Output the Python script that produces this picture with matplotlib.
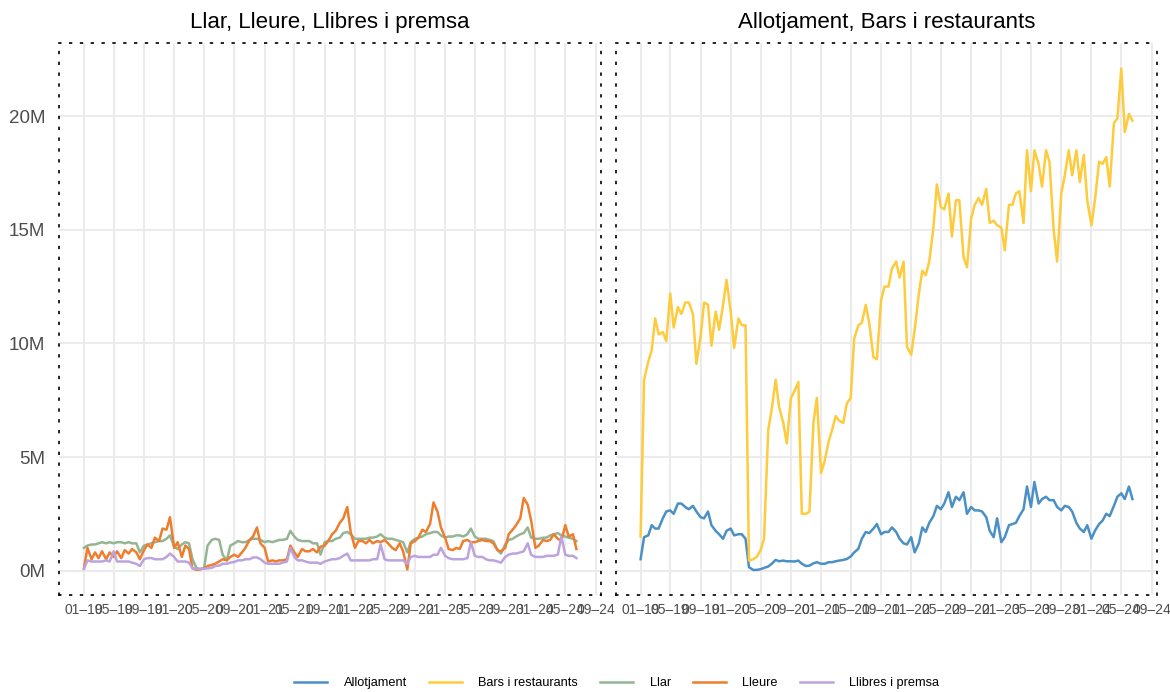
import pandas as pd
import matplotlib
matplotlib.use("Agg")
import matplotlib.pyplot as plt
import matplotlib.dates as mdates
from matplotlib.ticker import FuncFormatter

plt.rcParams['font.family'] = ['Liberation Sans', 'DejaVu Sans']

# --- data (millions, semi-monthly from Jan 2019) ---------------------------
dates = pd.date_range("2019-01-01", periods=132, freq="SMS")

allotjament = [
    0.5, 1.47, 1.55, 2.0, 1.85, 1.85, 2.3, 2.6, 2.65, 2.5, 2.95, 2.95,
    2.8, 2.7, 2.85, 2.6, 2.35, 2.3, 2.6, 2.0, 1.75, 1.6, 1.4, 1.75,
    1.85, 1.55, 1.6, 1.6, 1.4, 0.15, 0.03, 0.03, 0.06, 0.12, 0.18, 0.3,
    0.47, 0.41, 0.44, 0.41, 0.41, 0.4, 0.44, 0.3, 0.2, 0.22, 0.32, 0.37,
    0.3, 0.3, 0.37, 0.37, 0.41, 0.44, 0.47, 0.51, 0.62, 0.8, 0.96, 1.4,
    1.7, 1.65, 1.85, 2.05, 1.6, 1.7, 1.7, 1.9, 1.7, 1.4, 1.2, 1.15,
    1.47, 0.8, 1.2, 1.9, 1.7, 2.1, 2.4, 2.85, 2.7, 2.95, 3.45, 2.8,
    3.25, 3.1, 3.45, 2.5, 2.8, 2.65, 2.65, 2.6, 2.35, 1.75, 1.47, 2.3,
    1.25, 1.47, 2.0, 2.05, 2.1, 2.4, 2.7, 3.7, 2.8, 3.9, 2.95, 3.15,
    3.25, 3.1, 3.1, 2.8, 2.65, 2.85, 2.8, 2.6, 2.1, 1.85, 1.7, 2.0,
    1.4, 1.75, 2.05, 2.2, 2.5, 2.4, 2.85, 3.25, 3.4, 3.15, 3.7, 3.15,
]
bars = [
    1.5, 8.4, 9.2, 9.7, 11.1, 10.4, 10.5, 10.1, 12.2, 10.7, 11.6, 11.3,
    11.8, 11.8, 11.3, 9.1, 10.3, 11.8, 11.7, 9.9, 11.4, 10.6, 11.7, 12.8,
    11.4, 9.8, 11.1, 10.8, 10.8, 0.44, 0.5, 0.6, 0.9, 1.4, 6.2, 7.1,
    8.4, 7.2, 6.5, 5.6, 7.6, 7.9, 8.3, 2.5, 2.5, 2.6, 6.5, 7.6,
    4.3, 4.8, 5.7, 6.2, 6.8, 6.6, 6.5, 7.35, 7.6, 10.2, 10.8, 10.9,
    11.7, 10.9, 9.4, 9.3, 11.9, 12.5, 12.5, 13.3, 13.6, 12.9, 13.6, 9.85,
    9.5, 10.6, 12.2, 13.2, 13.0, 13.6, 15.1, 17.0, 16.0, 15.9, 16.6, 14.7,
    16.3, 16.3, 13.8, 13.35, 15.5, 16.1, 16.4, 16.1, 16.8, 15.3, 15.4, 15.2,
    15.1, 14.1, 16.1, 16.1, 16.6, 16.7, 15.3, 18.5, 16.7, 18.5, 17.9, 16.9,
    18.5, 18.0, 15.0, 13.6, 16.6, 17.4, 18.5, 17.4, 18.5, 17.1, 18.3, 16.3,
    15.2, 16.3, 18.0, 17.9, 18.2, 16.9, 19.7, 19.9, 22.1, 19.3, 20.1, 19.8,
]
llar = [
    1.0, 1.1, 1.15, 1.15, 1.2, 1.25, 1.2, 1.25, 1.2, 1.25, 1.25, 1.2,
    1.25, 1.2, 1.2, 0.8, 1.1, 1.15, 1.2, 1.25, 1.3, 1.3, 1.4, 1.55,
    1.05, 0.95, 1.15, 1.25, 1.2, 0.5, 0.1, 0.08, 0.1, 1.1, 1.35, 1.4,
    1.35, 0.7, 0.45, 1.1, 1.2, 1.3, 1.25, 1.25, 1.35, 1.4, 1.4, 1.35,
    1.25, 1.3, 1.25, 1.3, 1.35, 1.35, 1.4, 1.75, 1.5, 1.35, 1.3, 1.3,
    1.3, 1.2, 1.2, 0.7, 1.25, 1.3, 1.3, 1.4, 1.45, 1.65, 1.7, 1.6,
    1.4, 1.4, 1.4, 1.4, 1.45, 1.45, 1.5, 1.6, 1.45, 1.4, 1.4, 1.35,
    1.3, 1.25, 0.8, 1.25, 1.4, 1.45, 1.5, 1.6, 1.65, 1.7, 1.7, 1.55,
    1.45, 1.5, 1.5, 1.55, 1.55, 1.5, 1.6, 1.85, 1.5, 1.4, 1.4, 1.4,
    1.35, 1.3, 0.9, 0.75, 1.15, 1.35, 1.4, 1.5, 1.6, 1.65, 1.9, 1.45,
    1.4, 1.4, 1.45, 1.45, 1.55, 1.6, 1.65, 1.55, 1.5, 1.45, 1.4, 1.3,
]
lleure = [
    0.1, 1.0, 0.5, 0.8, 0.55, 0.85, 0.5, 0.8, 0.6, 0.85, 0.55, 0.9,
    0.75, 0.95, 0.8, 0.5, 0.9, 1.15, 1.0, 1.45, 1.3, 1.85, 1.8, 2.35,
    1.0, 1.25, 0.6, 1.1, 0.95, 0.1, 0.03, 0.05, 0.1, 0.2, 0.25, 0.3,
    0.4, 0.5, 0.45, 0.6, 0.7, 0.6, 0.8, 1.0, 1.35, 1.5, 1.9, 1.2,
    1.0, 0.4, 0.45, 0.4, 0.45, 0.45, 0.5, 1.1, 0.8, 0.6, 0.95, 0.85,
    0.85, 0.95, 0.8, 1.05, 1.1, 1.3, 1.6, 1.75, 2.1, 2.3, 2.8, 1.7,
    1.0, 1.3, 1.3, 1.2, 1.35, 1.2, 1.3, 1.25, 1.35, 1.2, 1.0, 0.9,
    1.2, 0.85, 0.05, 1.2, 1.3, 1.45, 1.8, 1.7, 2.05, 3.0, 2.6, 1.9,
    1.45, 0.95, 0.9, 1.0, 0.95, 1.3, 1.35, 1.25, 1.25, 1.3, 1.35, 1.3,
    1.3, 1.2, 0.9, 0.85, 1.0, 1.6, 1.8, 2.0, 2.3, 3.2, 2.9, 2.2,
    1.0, 1.1, 1.35, 1.3, 1.35, 1.6, 1.4, 1.3, 2.0, 1.5, 1.6, 0.95,
]
llibres = [
    0.07, 0.45, 0.4, 0.4, 0.4, 0.4, 0.45, 0.4, 0.85, 0.4, 0.4, 0.4,
    0.4, 0.35, 0.3, 0.2, 0.5, 0.55, 0.55, 0.5, 0.5, 0.5, 0.6, 0.75,
    0.6, 0.4, 0.4, 0.4, 0.35, 0.1, 0.07, 0.07, 0.08, 0.1, 0.12, 0.2,
    0.22, 0.3, 0.3, 0.35, 0.38, 0.45, 0.45, 0.5, 0.5, 0.58, 0.58, 0.5,
    0.35, 0.3, 0.3, 0.3, 0.3, 0.35, 0.4, 1.0, 0.6, 0.45, 0.45, 0.4,
    0.35, 0.35, 0.35, 0.3, 0.4, 0.45, 0.5, 0.5, 0.55, 0.65, 0.75, 0.45,
    0.45, 0.45, 0.45, 0.45, 0.45, 0.5, 0.5, 1.15, 0.5, 0.45, 0.45, 0.45,
    0.45, 0.45, 0.3, 0.6, 0.65, 0.6, 0.6, 0.6, 0.6, 0.7, 0.7, 1.0,
    0.65, 0.55, 0.5, 0.5, 0.5, 0.5, 0.55, 1.25, 0.65, 0.6, 0.6, 0.5,
    0.45, 0.45, 0.4, 0.35, 0.6, 0.7, 0.75, 0.75, 0.8, 0.85, 1.2, 0.7,
    0.6, 0.6, 0.6, 0.65, 0.65, 0.65, 0.7, 1.5, 0.7, 0.65, 0.65, 0.55,
]

colors = {
    "Allotjament": "#4a90c4",
    "Bars i restaurants": "#fecb3c",
    "Llar": "#94b594",
    "Lleure": "#ee7d2e",
    "Llibres i premsa": "#bca3de",
}

# --- figure ------------------------------------------------------------------
fig = plt.figure(figsize=(11.7, 6.92), dpi=100)
ax1 = fig.add_axes([0.0507, 0.1402, 0.463, 0.797])
ax2 = fig.add_axes([0.5265, 0.1402, 0.4624, 0.797], sharey=ax1)

lw = 1.8
ax1.plot(dates, llar, color=colors["Llar"], lw=lw, label="Llar")
ax1.plot(dates, lleure, color=colors["Lleure"], lw=lw, label="Lleure")
ax1.plot(dates, llibres, color=colors["Llibres i premsa"], lw=lw, label="Llibres i premsa")
ax2.plot(dates, allotjament, color=colors["Allotjament"], lw=lw, label="Allotjament")
ax2.plot(dates, bars, color=colors["Bars i restaurants"], lw=lw, label="Bars i restaurants")

ax1.set_title("Llar, Lleure, Llibres i premsa", fontsize=16, pad=11)
ax2.set_title("Allotjament, Bars i restaurants", fontsize=16, pad=11)

for ax in (ax1, ax2):
    ax.margins(x=0.05, y=0.05)
    ax.xaxis.set_major_locator(mdates.MonthLocator(bymonth=[1, 5, 9]))
    ax.xaxis.set_major_formatter(mdates.DateFormatter("%m\u2013%y"))
    ax.yaxis.set_major_locator(plt.MultipleLocator(5))
    ax.yaxis.set_major_formatter(FuncFormatter(lambda v, p: f"{v:.0f}M"))
    ax.grid(True, color="#ebebeb", lw=1.5)
    ax.set_axisbelow(True)
    ax.tick_params(axis="x", length=0, labelsize=10, labelcolor="#4d4d4d", pad=6)
    ax.tick_params(axis="y", length=0, labelsize=13.5, labelcolor="#4d4d4d", pad=10)
    for sp in ax.spines.values():
        sp.set_linestyle((0, (1, 5.5)))
        sp.set_linewidth(1.2)
        sp.set_color("black")
    ax.set_facecolor("white")

ax2.tick_params(axis="y", labelleft=False)

# --- legend ------------------------------------------------------------------
handles = []
for name in ["Allotjament", "Bars i restaurants", "Llar", "Lleure", "Llibres i premsa"]:
    handles.append(plt.Line2D([], [], color=colors[name], lw=lw, label=name))
fig.legend(handles=handles, loc="center", bbox_to_anchor=(0.527, 0.013), ncol=5,
           frameon=False, fontsize=9.2, handlelength=2.6, handletextpad=1.3,
           columnspacing=1.7)

fig.savefig("out.png", dpi=100)
